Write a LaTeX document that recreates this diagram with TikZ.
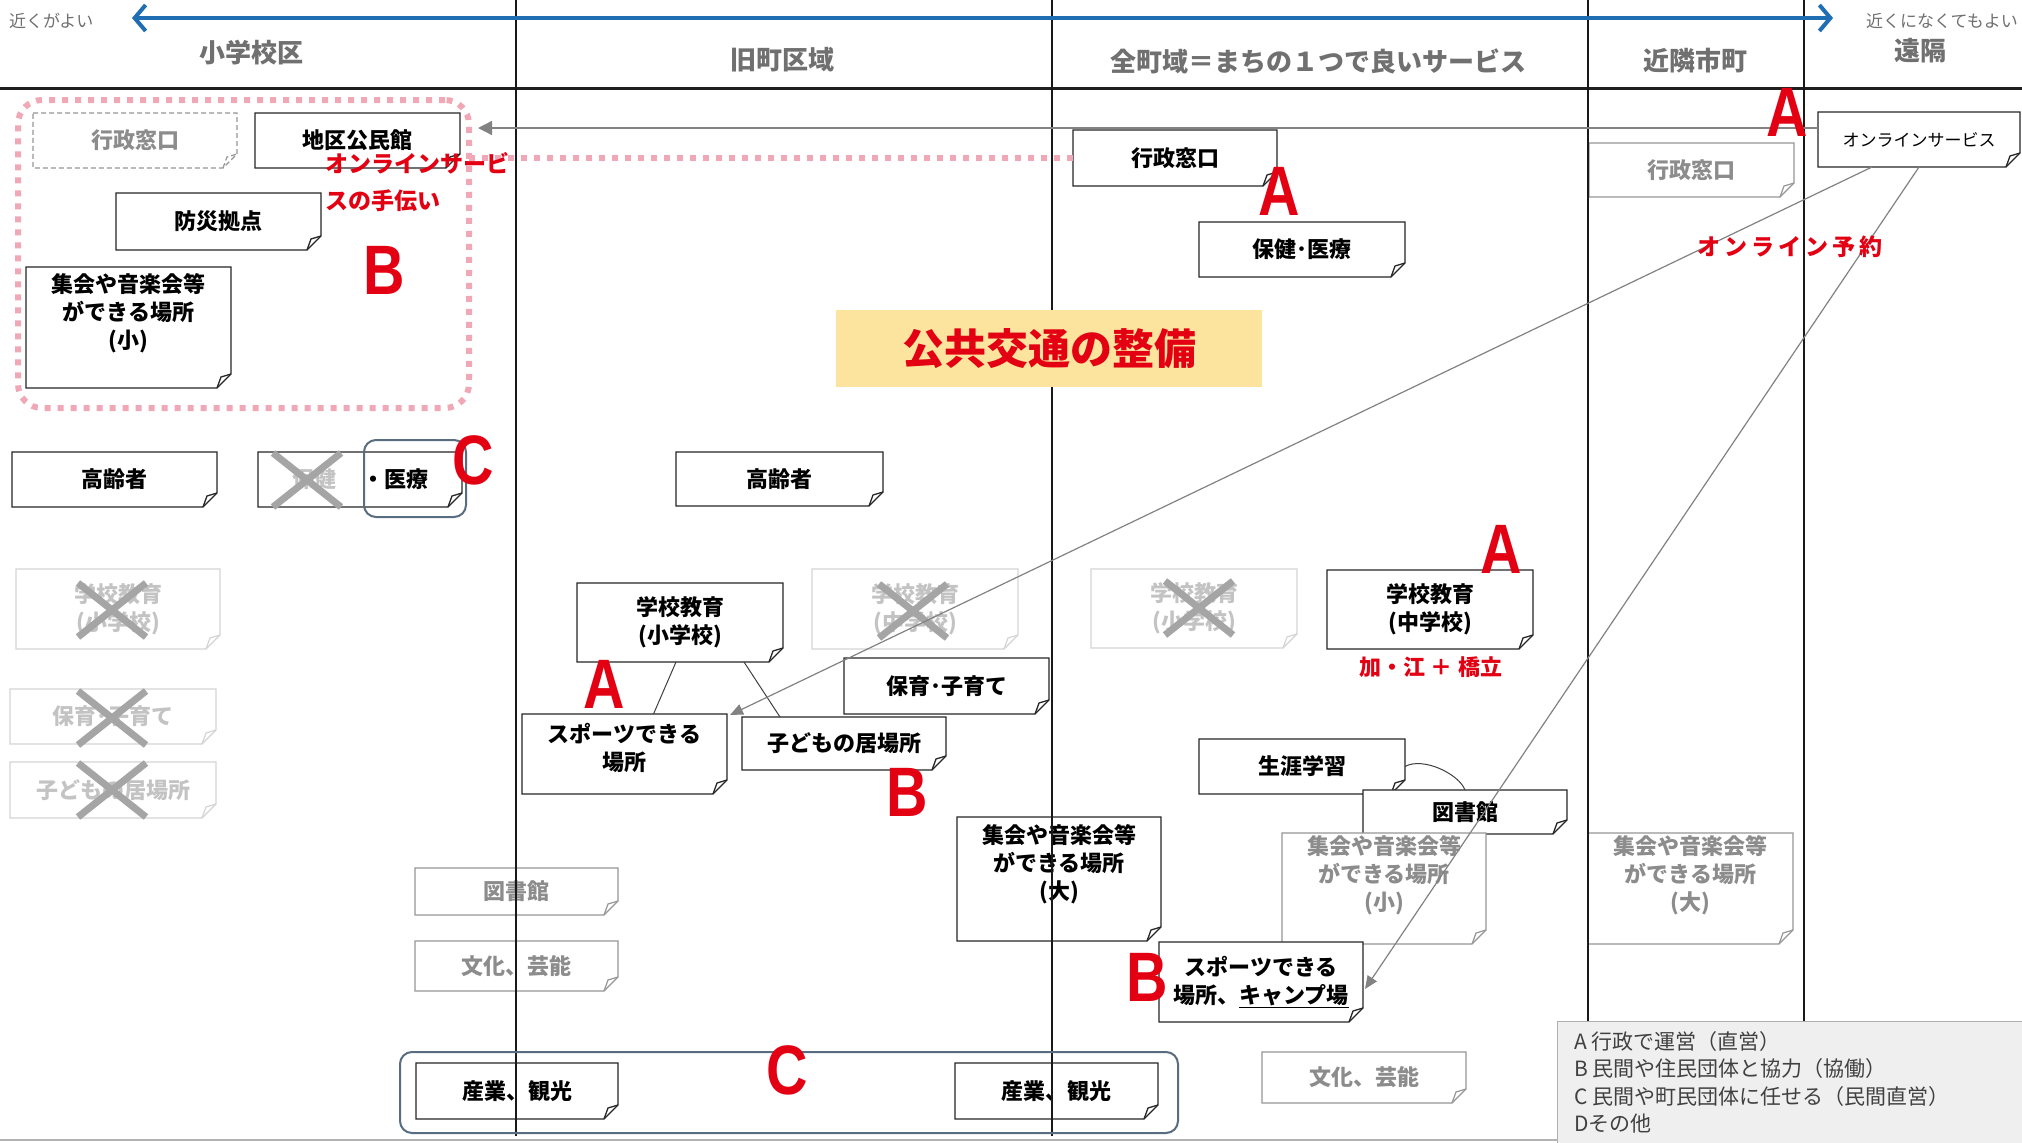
\documentclass[tikz,border=0pt]{standalone}
\usepackage{fontspec}
\usepackage{graphicx}
\setmainfont{Noto Sans CJK JP}
\newfontfamily\latinsans{Liberation Sans}
\usetikzlibrary{arrows.meta,calc}
\definecolor{redc}{RGB}{226,0,18}
\definecolor{bluec}{RGB}{31,110,180}
\definecolor{hdrgray}{RGB}{112,112,112}
\definecolor{gtext}{RGB}{140,140,140}
\definecolor{gline}{RGB}{150,150,150}
\definecolor{ftext}{RGB}{195,195,195}
\definecolor{fline}{RGB}{212,212,212}
\definecolor{xgray}{RGB}{165,165,165}
\definecolor{pinkc}{RGB}{240,168,182}
\definecolor{slate}{RGB}{88,108,130}
\definecolor{yellowbg}{RGB}{252,228,158}
\definecolor{legendbg}{RGB}{239,239,239}
\definecolor{legendline}{RGB}{175,175,175}
\definecolor{legendtext}{RGB}{64,64,64}
\definecolor{conn}{RGB}{130,130,130}
\newcommand\bigL[1]{\scalebox{0.82}[1]{#1}}
\newcommand\nbox[7][n]{%
  \pgfmathsetmacro\bw{#5-#3}%
  \pgfmathsetmacro\bh{#6-#4}%
  \pgfmathsetmacro\bx{(#3+#5)/2}%
  \pgfmathsetmacro\by{(#4+#6)/2}%
  \node[boxnode,#1 text,minimum width=\bw pt,minimum height=\bh pt] (#2) at (\bx,\by) {#7};
  \draw[#1 line] (#2.north west) -- (#2.north east) -- ([yshift=14pt]#2.south east)
     -- ([xshift=-14pt]#2.south east) -- (#2.south west) -- cycle;
  \draw[#1 line] ([xshift=-14pt]#2.south east) -- ([xshift=-10pt,yshift=11pt]#2.south east) -- ([yshift=14pt]#2.south east);
}
\newcommand\xmark[2]{\draw[xline] (#1-34,#2-27) -- (#1+34,#2+27) (#1-34,#2+27) -- (#1+34,#2-27);}
\tikzset{
  boxnode/.style={fill=white, draw=none, inner sep=2pt, outer sep=0pt, align=center,
    font=\fontsize{22}{28}\selectfont\bfseries},
  n text/.style={text=black},
  n line/.style={draw=black!85, line width=1.3pt, line join=miter},
  g text/.style={text=gtext},
  g line/.style={draw=gline, line width=1.2pt},
  f text/.style={text=ftext},
  f line/.style={draw=fline, line width=1.2pt},
  d text/.style={text=gtext},
  d line/.style={draw=gline, line width=1.2pt, dash pattern=on 5pt off 3pt},
  o text/.style={text=black, font=\fontsize{17}{20}\selectfont},
  o line/.style={draw=black!85, line width=1.3pt},
  xline/.style={draw=xgray, line width=7pt},
  redletter/.style={text=redc, inner sep=0pt, font=\latinsans\fontsize{70}{70}\selectfont\bfseries},
  redtext/.style={text=redc, inner sep=0pt, font=\fontsize{23}{37}\selectfont\bfseries},
  hdr/.style={text=hdrgray, inner sep=0pt, font=\fontsize{26}{30}\selectfont\bfseries},
  hdrsmall/.style={text=hdrgray, inner sep=0pt, font=\fontsize{17}{20}\selectfont},
  sepline/.style={draw=black!90, line width=2.2pt},
  pinkdot/.style={draw=pinkc, line width=6pt, dash pattern=on 6pt off 7pt},
  cgroup/.style={draw=slate, line width=2pt, rounded corners=12pt, fill=none, inner sep=0pt, outer sep=0pt},
  grayarrow/.style={draw=conn, line width=1.4pt, -{Triangle[length=14pt,width=14pt]}},
  thinline/.style={draw=black!75, line width=1pt},
}
\begin{document}
\begin{tikzpicture}[x=1pt,y=-1pt]
\useasboundingbox (0,0) rectangle (2022,1143);
\fill[white] (0,0) rectangle (2022,1143);

% pink dotted group
\node[pinkdot, rounded corners=24pt, minimum width=451pt, minimum height=308pt, inner sep=0pt, outer sep=0pt] (grpB) at (243.5,254) {};

% boxes - small school district
\nbox[d]{gyoseiA}{33}{113}{237}{168}{行政窓口}
\nbox{chiku}{255}{113}{460}{168}{地区公民館}
\nbox{bosai}{116}{193}{321}{250}{防災拠点}
\nbox{shukaiA}{26}{267}{231}{388}{集会や音楽会等\\ができる場所\\(小)\\[6pt]}
\nbox{koreiA}{12}{452}{217}{507}{高齢者}
\nbox{hokenA}{258}{452}{462}{507}{{\color{ftext}保健}\hspace{26pt}・医療}
\nbox[f]{gakkoA}{16}{569}{220}{649}{学校教育\\(小学校)}
\nbox[f]{hoikuA}{10}{689}{216}{744}{保育･子育て}
\nbox[f]{kodomoA}{10}{762}{216}{818}{子どもの居場所}

% old town area
\nbox{koreiB}{676}{452}{883}{506}{高齢者}
\nbox{gakkoB}{577}{583}{783}{662}{学校教育\\(小学校)}
\nbox[f]{gakkoBm}{812}{569}{1018}{649}{学校教育\\(中学校)}
\nbox{hoikuB}{844}{658}{1049}{714}{保育･子育て}
\nbox{sportsB}{522}{714}{727}{794}{スポーツできる\\場所\\[-14pt]}
\nbox{kodomoB}{742}{717}{946}{770}{子どもの居場所}
\nbox[g]{toshoB}{415}{868}{618}{915}{図書館}
\nbox[g]{bunkaB}{415}{941}{618}{991}{文化、芸能}
\nbox{sangyoB}{416}{1063}{618}{1119}{産業、観光}

% whole town
\nbox{gyoseiC}{1073}{130}{1277}{186}{行政窓口}
\nbox{hokenC}{1199}{222}{1405}{277}{保健･医療}
\nbox[f]{gakkoCs}{1091}{569}{1297}{648}{学校教育\\(小学校)}
\nbox{gakkoCm}{1327}{570}{1533}{649}{学校教育\\(中学校)}
\nbox{shogai}{1199}{739}{1405}{794}{生涯学習}
\nbox{toshoC}{1363}{790}{1567}{834}{図書館}
\nbox[g]{shukaiCs}{1282}{837}{1486}{940}{集会や音楽会等\\ができる場所\\(小)\\[4pt]}
\nbox{shukaiCl}{957}{817}{1161}{941}{集会や音楽会等\\ができる場所\\(大)\\[6pt]}
\nbox{camp}{1159}{942}{1363}{1022}{スポーツできる\\場所、\underline{キャンプ場}}
\nbox[g]{bunkaC}{1262}{1052}{1466}{1103}{文化、芸能}
\nbox{sangyoC}{955}{1063}{1158}{1119}{産業、観光}

% neighbouring / remote
\nbox[g]{gyoseiD}{1589}{143}{1794}{197}{行政窓口}
\nbox[g]{shukaiD}{1588}{838}{1793}{939}{集会や音楽会等\\ができる場所\\(大)\\[4pt]}
\nbox[o]{online}{1818}{112}{2020}{167}{オンラインサービス}

% crosses
\xmark{112}{610}
\xmark{307}{480}
\xmark{112}{718}
\xmark{112}{790}
\xmark{913}{611}
\xmark{1199}{608}

% header and column lines
\draw[line width=3pt, draw=black!88] (0,88) -- (2022,88);
\foreach \xx in {516,1052,1588,1804}{\draw[sepline] (\xx,0) -- (\xx,1136);}
\draw[draw=black!30, line width=1.5pt] (0,1140) -- (2022,1140);

% blue arrow
\coordinate (nearL) at (132,18);
\coordinate (farR) at (1833,18);
\draw[draw=bluec, line width=4pt, {Straight Barb[length=11pt,width=26pt,line width=4pt]}-{Straight Barb[length=11pt,width=26pt,line width=4pt]}] (nearL) -- (farR);
\node[hdrsmall, anchor=west] (nearTxt) at (9,21) {近くがよい};
\node[hdrsmall, anchor=east] (farTxt) at (2018,21) {近くになくてもよい};
\node[hdr] (h1) at (251,53) {小学校区};
\node[hdr] (h2) at (782,60) {旧町区域};
\node[hdr] (h3) at (1318,61) {全町域＝まちの１つで良いサービス};
\node[hdr] (h4) at (1695,61) {近隣市町};
\node[hdr] (h5) at (1920,51) {遠隔};

% public transport box
\node[fill=yellowbg, minimum width=426pt, minimum height=77pt, inner sep=0pt, text=redc,
  font=\fontsize{42}{46}\selectfont\bfseries] (koutsu) at (1049,348.5) {公共交通の整備};

% C groups
\node[cgroup, minimum width=102pt, minimum height=77pt] (cgrpA) at (415,478.5) {};
\node[cgroup, minimum width=778pt, minimum height=81pt] (cgrpB) at (789,1092.5) {};

% connectors
\draw[pinkdot] (grpB.east |- gyoseiC.west) -- (gyoseiC.west);
\coordinate (chikuTip) at (478,128);
\draw[grayarrow] (online.west |- chikuTip) -- (chikuTip);
\draw[thinline] ([xshift=-4pt]gakkoB.south) -- ([xshift=29pt]sportsB.north);
\draw[thinline] ([xshift=-39pt]gakkoB.south east) -- ([xshift=-64pt]kodomoB.north);
\draw[thinline] (shogai.east) .. controls +(18,-10) and +(-6,-16) .. (toshoC.north);
\draw[draw=conn, line width=1.2pt, -{Triangle[length=13pt,width=11pt]}] ([xshift=-47pt]online.south) -- ([xshift=3pt,yshift=-1pt]sportsB.north east);
\draw[draw=conn, line width=1.2pt, -{Triangle[length=13pt,width=11pt]}] (online.south) -- ([xshift=2pt,yshift=-7pt]camp.east);

% red letters
\node[redletter] (lA1) at (1787,112) {\bigL{A}};
\node[redletter] (lA2) at (1279,191) {\bigL{A}};
\node[redletter] (lB1) at (384,270) {\bigL{B}};
\node[redletter] (lC1) at (473,460) {\bigL{C}};
\node[redletter] (lA3) at (604,684) {\bigL{A}};
\node[redletter] (lB2) at (907,792) {\bigL{B}};
\node[redletter] (lA4) at (1501,549) {\bigL{A}};
\node[redletter] (lB3) at (1147,977) {\bigL{B}};
\node[redletter] (lC2) at (787,1070) {\bigL{C}};

% red texts
\node[redtext, anchor=north west, align=left] (helpTxt) at (325,152) {オンラインサービ\\スの手伝い};
\node[redtext, font=\fontsize{23}{28}\selectfont\bfseries\addfontfeatures{LetterSpace=18}] (yoyaku) at (1790,247) {オンライン予約};
\node[redtext, font=\fontsize{22}{26}\selectfont\bfseries] (kae) at (1431,667) {加・江 ＋ 橋立};

% legend
\node[fill=legendbg, draw=legendline, line width=1.2pt, minimum width=470pt, minimum height=125pt, anchor=north west, inner sep=0pt] (legend) at (1557,1021) {};
\node[anchor=north west, align=left, inner sep=0pt, text=legendtext, font=\fontsize{21}{27.5}\selectfont] (legendTxt) at (1574,1031)
 {A 行政で運営（直営）\\B 民間や住民団体と協力（協働）\\C 民間や町民団体に任せる（民間直営）\\Dその他};
\end{tikzpicture}
\end{document}
